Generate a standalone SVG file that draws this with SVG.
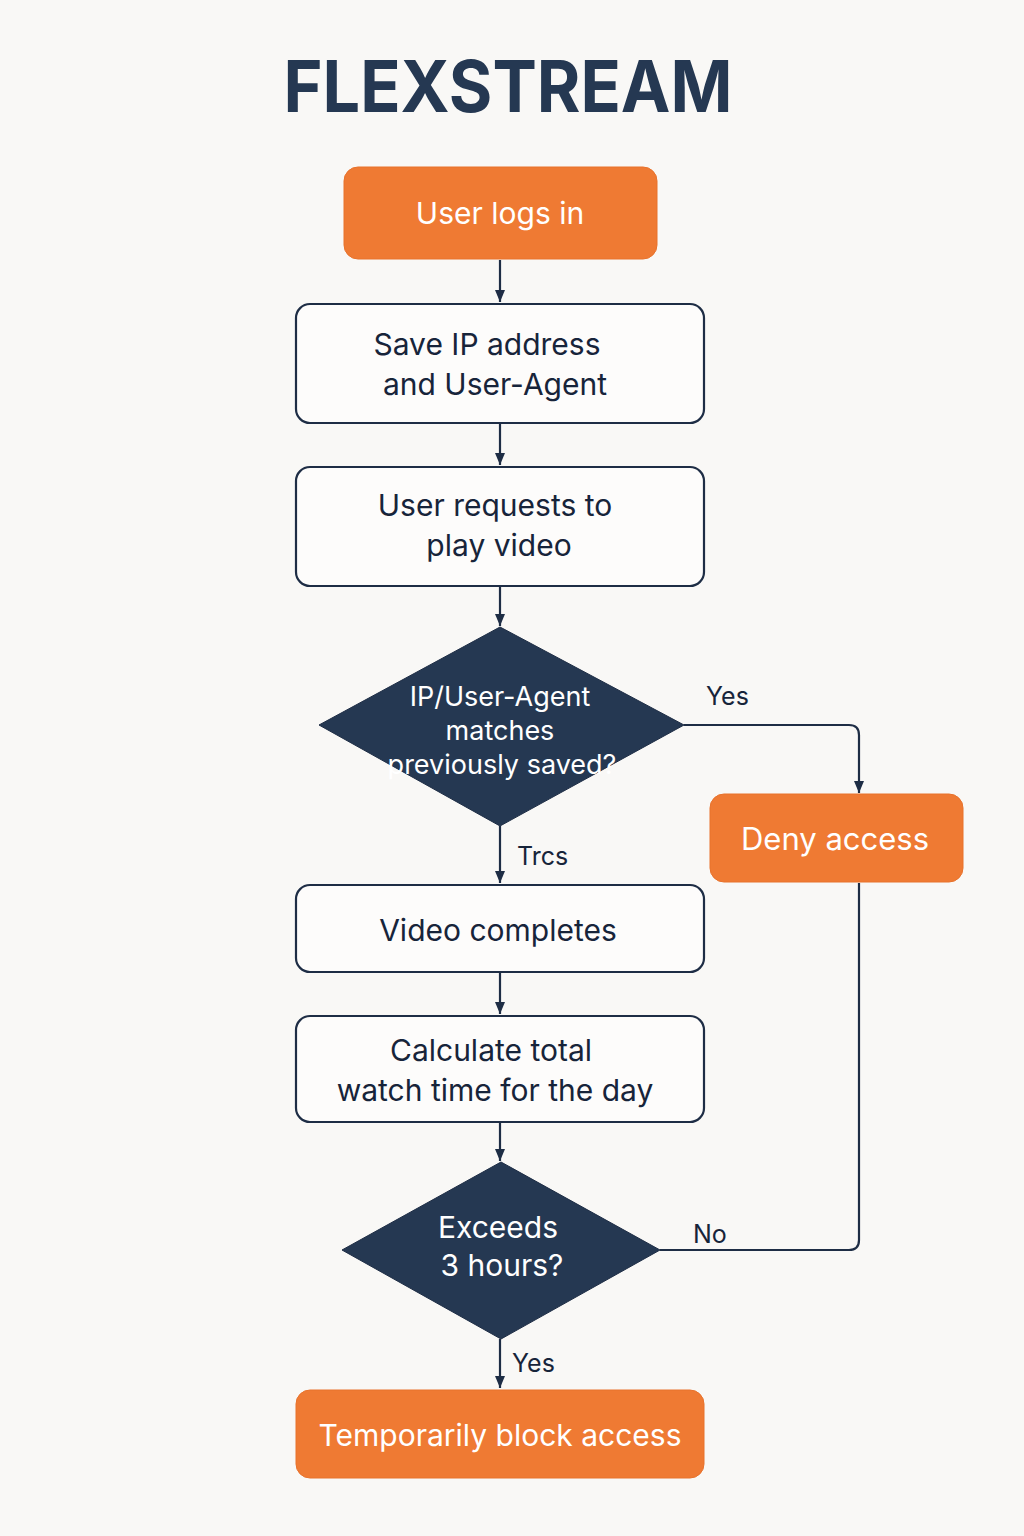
<svg xmlns="http://www.w3.org/2000/svg" width="1024" height="1536" viewBox="0 0 1024 1536">
<style>
.bg{fill:#f9f8f6}
.proc{fill:#fdfcfb;stroke:#1e2d45;stroke-width:2.2}
.term{fill:#ef7a33;stroke:#e8722c;stroke-width:1}
.dec{fill:#253852;stroke:#1e2d45;stroke-width:1}
.t{font-family:Inter,"Noto Sans","Liberation Sans",sans-serif;text-anchor:middle;fill:#17243a;font-size:30px}
.w{fill:#ffffff}
.lbl{font-family:Inter,"Noto Sans","Liberation Sans",sans-serif;fill:#17243a;font-size:25px}
.edge{fill:none;stroke:#1e2d45;stroke-width:2.2}
</style>
<defs>
<marker id="ah2" viewBox="0 0 12 10" refX="12" refY="5" markerWidth="12" markerHeight="10" markerUnits="userSpaceOnUse" orient="auto">
<path d="M0,0 L12,5 L0,10 z" fill="#1e2d45"/>
</marker>
</defs>
<rect class="bg" x="0" y="0" width="1024" height="1536"/>
<text x="508" y="112" font-family="Inter,'Liberation Sans',sans-serif" font-weight="700" font-size="72" fill="#253852" text-anchor="middle" textLength="449" lengthAdjust="spacingAndGlyphs">FLEXSTREAM</text>

<g id="connectors">
<path class="edge" d="M500,260 L500,302" marker-end="url(#ah2)"/>
<path class="edge" d="M500,424 L500,465" marker-end="url(#ah2)"/>
<path class="edge" d="M500,587 L500,626" marker-end="url(#ah2)"/>
<path class="edge" d="M684,725 L849,725 Q859,725 859,735 L859,793" marker-end="url(#ah2)"/>
<path class="edge" d="M500,826 L500,883" marker-end="url(#ah2)"/>
<path class="edge" d="M500,973 L500,1014" marker-end="url(#ah2)"/>
<path class="edge" d="M500,1123 L500,1161" marker-end="url(#ah2)"/>
<path class="edge" d="M660,1250 L849,1250 Q859,1250 859,1240 L859,883"/>
<path class="edge" d="M500,1339 L500,1388" marker-end="url(#ah2)"/>
<text class="lbl" x="706" y="705">Yes</text>
<text class="lbl" x="517" y="865">Trcs</text>
<text class="lbl" x="693" y="1243">No</text>
<text class="lbl" x="512" y="1372">Yes</text>
</g>

<g id="n1"><rect class="term" x="344" y="167" width="313" height="92" rx="14"/><text class="t w" x="500" y="224">User logs in</text></g>
<g id="n2"><rect class="proc" x="296" y="304" width="408" height="119" rx="14"/><text class="t" x="487" y="355">Save IP address</text><text class="t" x="495" y="395">and User-Agent</text></g>
<g id="n3"><rect class="proc" x="296" y="467" width="408" height="119" rx="14"/><text class="t" x="495" y="516">User requests to</text><text class="t" x="499" y="556">play video</text></g>
<g id="n4"><path class="dec" d="M500,627 L684,725 L500,826 L319,725 Z"/><text class="t w" x="500" y="706" style="font-size:27px">IP/User-Agent</text><text class="t w" x="500" y="740" style="font-size:27px">matches</text><text class="t w" x="502" y="774" style="font-size:27px">previously saved?</text></g>
<g id="n5"><rect class="term" x="710" y="794" width="253" height="88" rx="14"/><text class="t w" x="835" y="850" style="font-size:31px">Deny access</text></g>
<g id="n6"><rect class="proc" x="296" y="885" width="408" height="87" rx="14"/><text class="t" x="498" y="941">Video completes</text></g>
<g id="n7"><rect class="proc" x="296" y="1016" width="408" height="106" rx="14"/><text class="t" x="491" y="1061">Calculate total</text><text class="t" x="495" y="1101">watch time for the day</text></g>
<g id="n8"><path class="dec" d="M501,1162 L660,1250 L501,1339 L342,1250 Z"/><text class="t w" x="498" y="1238">Exceeds</text><text class="t w" x="502" y="1276">3 hours?</text></g>
<g id="n9"><rect class="term" x="296" y="1390" width="408" height="88" rx="14"/><text class="t w" x="500" y="1446" style="font-size:30px">Temporarily block access</text></g>
</svg>
